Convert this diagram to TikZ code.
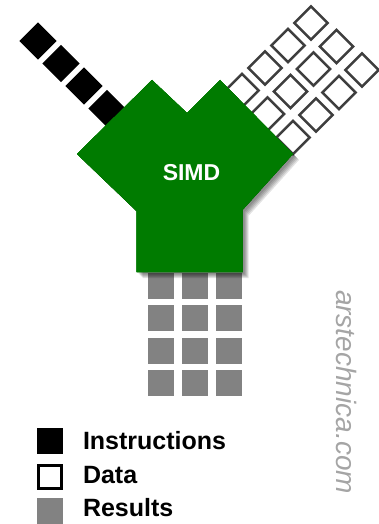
\documentclass[tikz,border=0pt]{standalone}
\usepackage{fontspec}
\setmainfont{Liberation Sans}
\usepackage{xcolor}
\usepackage{tikz}
\usetikzlibrary{positioning}
\definecolor{simdgreen}{RGB}{0,123,0}
\definecolor{resgray}{RGB}{130,130,130}
\definecolor{datagray}{RGB}{62,62,62}
\definecolor{markgray}{RGB}{165,165,165}
\newcommand{\simdbody}[1]{%
  \fill[#1] (77,154) -- (152,80) -- (187,113) -- (220,80) -- (293,154)
    -- (242.5,210) -- (242.5,272) -- (136.5,272) -- (136.5,211) -- cycle;}

\begin{document}
\begin{tikzpicture}[x=1pt,y=-1pt,
  every node/.style={inner sep=0pt,outer sep=0pt},
  instr/.style={fill=black,minimum size=26.5pt,rotate=45},
  datum/.style={draw=datagray,line width=2.6pt,fill=white,minimum size=23.5pt,rotate=45},
  result/.style={fill=resgray,minimum size=26pt},
  keybox/.style={minimum size=26pt},
  keytext/.style={font=\fontsize{25}{25}\selectfont\bfseries,anchor=base west}]
\useasboundingbox (0,0) rectangle (378,524);
\foreach \i in {0,...,3}
  \node[instr] (i\i) at ({38+23*\i},{41+22.5*\i}) {};
\foreach \s in {0,1,2}
  \foreach \i in {0,...,3}
    \node[datum] (d\s\i) at ({311+25.5*\s-23*\i},{23+23.5*\s+22.5*\i}) {};
\foreach \r in {0,...,3}
  \foreach \c in {0,1,2}
    \node[result] (r\r\c) at ({161+34*\c},{286+32.3*\r}) {};
% soft shadow under the processor
\foreach \d in {2,3,4,5,6}
  \simdbody{black,opacity=0.11,shift={(\d,\d)}}
\simdbody{simdgreen}
\node[text=white,font=\fontsize{23}{23}\selectfont\bfseries] (simd) at (191.5,172.5) {SIMD};
\node[keybox,fill=black] (kinstr) at (50,441) {};
\node[keybox,draw=black,line width=3pt,minimum size=23pt,fill=white] (kdata) at (50,477) {};
\node[keybox,fill=resgray] (kres) at (50,511) {};
\node[keytext] (tinstr) at (83,449) {Instructions};
\node[keytext] (tdata) at (83,483) {Data};
\node[keytext] (tres) at (83,516) {Results};
\node[rotate=-90,text=markgray,font=\fontsize{28}{28}\selectfont\itshape] (mark) at (347,392) {arstechnica.com};
\end{tikzpicture}
\end{document}
